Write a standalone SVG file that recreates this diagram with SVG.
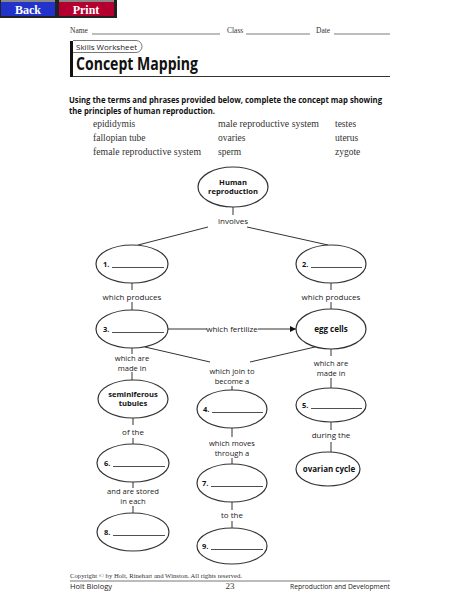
<svg xmlns="http://www.w3.org/2000/svg" width="474" height="613" viewBox="0 0 474 613">
<style>
.el{fill:#fff;stroke:#333;stroke-width:1.2}
.ln{stroke:#333;stroke-width:1;fill:none}
.lb{font-family:"Open Sans","Liberation Sans",sans-serif;font-size:8px;fill:#222;text-anchor:middle}
.lb2{font-family:"Open Sans","Liberation Sans",sans-serif;font-size:7.6px;fill:#222;text-anchor:middle}
.bd{font-family:"Open Sans","Liberation Sans",sans-serif;font-size:8px;font-weight:bold;fill:#111;text-anchor:middle}
.bd2{font-family:"Open Sans","Liberation Sans",sans-serif;font-size:7.6px;font-weight:bold;fill:#111;text-anchor:middle}
.num{font-family:"Open Sans","Liberation Sans",sans-serif;font-size:7.5px;font-weight:bold;fill:#111}
.ul{stroke:#222;stroke-width:0.8}
.sf{font-family:"Liberation Serif","DejaVu Serif",serif;fill:#333}
</style>
<defs>
<marker id="ah" viewBox="0 0 10 10" refX="10" refY="5" markerWidth="8" markerHeight="6" markerUnits="userSpaceOnUse" orient="auto">
<path d="M0,0 L10,5 L0,10 z" fill="#111"/>
</marker>
</defs>
<rect width="474" height="613" fill="#fff"/>
<!-- buttons -->
<g id="btn-back">
<rect x="0" y="0" width="57" height="18" fill="#222"/>
<rect x="1" y="2" width="54" height="14" fill="#2233cc"/>
<rect x="1" y="0" width="54" height="2" fill="#888"/>
<text x="28" y="13.5" text-anchor="middle" font-family="Liberation Serif,serif" font-weight="bold" font-size="12" fill="#fff">Back</text>
</g>
<g id="btn-print">
<rect x="57" y="0" width="60" height="18" fill="#222"/>
<rect x="59" y="2" width="55" height="14" fill="#b5002f"/>
<rect x="59" y="0" width="55" height="2" fill="#888"/>
<text x="86" y="13.5" text-anchor="middle" font-family="Liberation Serif,serif" font-weight="bold" font-size="12" fill="#fff">Print</text>
</g>
<!-- header -->
<g id="header">
<text class="sf" x="70" y="33" font-size="7.5">Name</text>
<line x1="92" y1="34" x2="220" y2="34" stroke="#444" stroke-width="0.7"/>
<text class="sf" x="227" y="33" font-size="7.5">Class</text>
<line x1="246" y1="34" x2="310" y2="34" stroke="#444" stroke-width="0.7"/>
<text class="sf" x="316" y="33" font-size="7.5">Date</text>
<line x1="334" y1="34" x2="390" y2="34" stroke="#444" stroke-width="0.7"/>
<rect x="70" y="41" width="3" height="36" fill="#111"/>
<path d="M73,40.5 H136 A6,6 0 0 1 136,52.5 H73" fill="none" stroke="#555" stroke-width="0.8"/>
<text x="76" y="50" font-family="Open Sans,Liberation Sans,sans-serif" font-size="8" fill="#222" textLength="61" lengthAdjust="spacingAndGlyphs">Skills Worksheet</text>
<text x="76" y="70" font-family="Open Sans,Liberation Sans,sans-serif" font-size="18" font-weight="bold" fill="#111" textLength="122" lengthAdjust="spacingAndGlyphs">Concept Mapping</text>
<line x1="73" y1="76.5" x2="390" y2="76.5" stroke="#333" stroke-width="1"/>
</g>
<!-- instructions -->
<g id="instructions">
<text x="69" y="103" font-family="Open Sans,Liberation Sans,sans-serif" font-size="8.5" font-weight="bold" fill="#111" textLength="313" lengthAdjust="spacingAndGlyphs">Using the terms and phrases provided below, complete the concept map showing</text>
<text x="69" y="114" font-family="Open Sans,Liberation Sans,sans-serif" font-size="8.5" font-weight="bold" fill="#111" textLength="146" lengthAdjust="spacingAndGlyphs">the principles of human reproduction.</text>
<g class="sf" font-size="9.5">
<text x="93" y="127">epididymis</text>
<text x="93" y="141">fallopian tube</text>
<text x="93" y="155" textLength="108" lengthAdjust="spacingAndGlyphs">female reproductive system</text>
<text x="218" y="127" textLength="101" lengthAdjust="spacingAndGlyphs">male reproductive system</text>
<text x="218" y="141">ovaries</text>
<text x="218" y="155">sperm</text>
<text x="335" y="127">testes</text>
<text x="335" y="141">uterus</text>
<text x="335" y="155">zygote</text>
</g>
</g>
<!-- connectors -->
<g id="connectors">
<line class="ln" x1="233" y1="207" x2="233" y2="215"/>
<line class="ln" x1="208" y1="227" x2="138" y2="245"/>
<line class="ln" x1="247" y1="227" x2="328" y2="245"/>
<line class="ln" x1="132" y1="283" x2="132" y2="290"/>
<line class="ln" x1="331" y1="283" x2="331" y2="290"/>
<line class="ln" x1="132" y1="302" x2="132" y2="310"/>
<line class="ln" x1="331" y1="302" x2="331" y2="309"/>
<line class="ln" x1="168" y1="329" x2="207" y2="329"/>
<line class="ln" x1="258" y1="329" x2="296" y2="329" marker-end="url(#ah)"/>
<line class="ln" x1="145" y1="347" x2="210" y2="362"/>
<line class="ln" x1="315" y1="347" x2="250" y2="362"/>
<line class="ln" x1="232" y1="386" x2="232" y2="390"/>
<line class="ln" x1="132" y1="348" x2="132" y2="354"/>
<line class="ln" x1="132" y1="372" x2="132" y2="380"/>
<line class="ln" x1="331" y1="349" x2="331" y2="356"/>
<line class="ln" x1="331" y1="378" x2="331" y2="388"/>
<line class="ln" x1="133" y1="418" x2="133" y2="425"/>
<line class="ln" x1="133" y1="438" x2="133" y2="444"/>
<line class="ln" x1="133" y1="482" x2="133" y2="488"/>
<line class="ln" x1="133" y1="506" x2="133" y2="513"/>
<line class="ln" x1="232" y1="428" x2="232" y2="437"/>
<line class="ln" x1="232" y1="458" x2="232" y2="464"/>
<line class="ln" x1="232" y1="502" x2="232" y2="510"/>
<line class="ln" x1="232" y1="521" x2="232" y2="528"/>
<line class="ln" x1="331" y1="422" x2="331" y2="430"/>
<line class="ln" x1="331" y1="442" x2="331" y2="452"/>
</g>
<!-- connector labels -->
<g id="labels">
<text class="lb" x="233" y="224">involves</text>
<text class="lb" x="132" y="300">which produces</text>
<text class="lb" x="331" y="300">which produces</text>
<text class="lb" x="232" y="332">which fertilize</text>
<text class="lb2" x="232" y="374">which join to</text>
<text class="lb2" x="232" y="383.5">become a</text>
<text class="lb2" x="132" y="361">which are</text>
<text class="lb2" x="132" y="370.5">made in</text>
<text class="lb2" x="331" y="366">which are</text>
<text class="lb2" x="331" y="375.5">made in</text>
<text class="lb" x="133" y="435">of the</text>
<text class="lb2" x="133" y="494">and are stored</text>
<text class="lb2" x="133" y="503.5">in each</text>
<text class="lb2" x="232" y="446">which moves</text>
<text class="lb2" x="232" y="455.5">through a</text>
<text class="lb" x="232" y="518">to the</text>
<text class="lb" x="331" y="438">during the</text>
</g>
<!-- nodes -->
<g id="n-human">
<ellipse class="el" cx="233" cy="187" rx="35" ry="20"/>
<text class="bd2" x="233" y="184.5">Human</text>
<text class="bd2" x="233" y="194">reproduction</text>
</g>
<g id="n1">
<ellipse class="el" cx="132" cy="264" rx="36" ry="19"/>
<text class="num" x="103" y="267">1.</text>
<line class="ul" x1="112" y1="267.5" x2="164" y2="267.5"/>
</g>
<g id="n2">
<ellipse class="el" cx="331" cy="264" rx="35" ry="19"/>
<text class="num" x="302" y="267">2.</text>
<line class="ul" x1="311" y1="267.5" x2="362" y2="267.5"/>
</g>
<g id="n3">
<ellipse class="el" cx="132" cy="329" rx="36" ry="19"/>
<text class="num" x="103" y="332">3.</text>
<line class="ul" x1="112" y1="332.5" x2="164" y2="332.5"/>
</g>
<g id="n-egg">
<ellipse class="el" cx="331" cy="329" rx="35" ry="20"/>
<text class="bd" x="331" y="332">egg cells</text>
</g>
<g id="n-semi">
<ellipse class="el" cx="133" cy="399" rx="35" ry="19"/>
<text class="bd2" x="133" y="396.5">seminiferous</text>
<text class="bd2" x="133" y="406">tubules</text>
</g>
<g id="n4">
<ellipse class="el" cx="232" cy="409" rx="35" ry="19"/>
<text class="num" x="203" y="412">4.</text>
<line class="ul" x1="212" y1="412.5" x2="263" y2="412.5"/>
</g>
<g id="n5">
<ellipse class="el" cx="331" cy="405" rx="35" ry="17"/>
<text class="num" x="302" y="408">5.</text>
<line class="ul" x1="311" y1="408.5" x2="362" y2="408.5"/>
</g>
<g id="n-ovarian">
<ellipse class="el" cx="328" cy="469" rx="32" ry="17"/>
<text class="bd" x="329" y="472">ovarian cycle</text>
</g>
<g id="n6">
<ellipse class="el" cx="133" cy="463" rx="36" ry="19"/>
<text class="num" x="104" y="466">6.</text>
<line class="ul" x1="113" y1="466.5" x2="165" y2="466.5"/>
</g>
<g id="n7">
<ellipse class="el" cx="232" cy="483" rx="35" ry="19"/>
<text class="num" x="202" y="486">7.</text>
<line class="ul" x1="211" y1="486.5" x2="263" y2="486.5"/>
</g>
<g id="n8">
<ellipse class="el" cx="133" cy="532" rx="36" ry="19"/>
<text class="num" x="104" y="535">8.</text>
<line class="ul" x1="113" y1="535.5" x2="165" y2="535.5"/>
</g>
<g id="n9">
<ellipse class="el" cx="232" cy="546" rx="35" ry="18"/>
<text class="num" x="202" y="549">9.</text>
<line class="ul" x1="211" y1="549.5" x2="263" y2="549.5"/>
</g>
<!-- footer -->
<g id="footer">
<text class="sf" x="70" y="578" font-size="6" textLength="172" lengthAdjust="spacingAndGlyphs">Copyright © by Holt, Rinehart and Winston. All rights reserved.</text>
<line x1="70" y1="581" x2="390" y2="581" stroke="#555" stroke-width="0.8"/>
<text x="70" y="589" font-family="Open Sans,Liberation Sans,sans-serif" font-size="7.5" fill="#222">Holt Biology</text>
<text class="sf" x="230" y="589" font-size="9" text-anchor="middle" fill="#222">23</text>
<text x="390" y="589" font-family="Open Sans,Liberation Sans,sans-serif" font-size="7.5" fill="#222" text-anchor="end" textLength="100" lengthAdjust="spacingAndGlyphs">Reproduction and Development</text>
</g>
</svg>
